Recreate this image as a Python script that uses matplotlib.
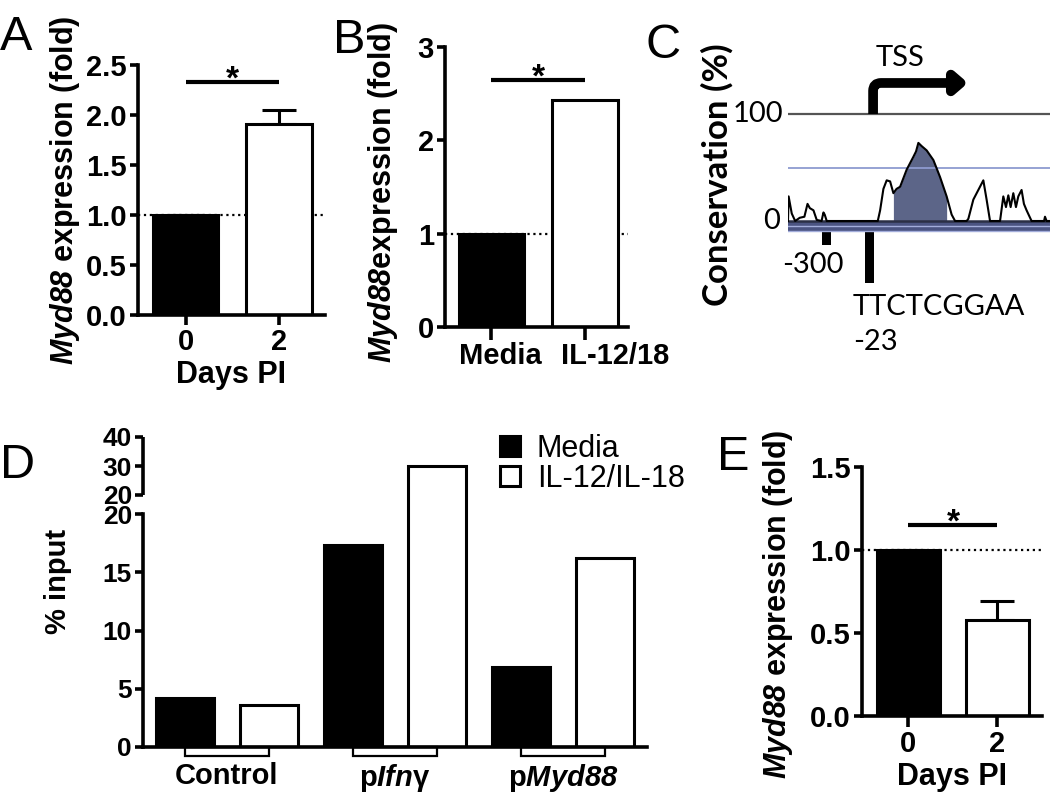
import numpy as np
import matplotlib
matplotlib.use("Agg")
import matplotlib.pyplot as plt
from matplotlib.patches import Rectangle
from matplotlib.ticker import FixedLocator
from matplotlib.transforms import ScaledTranslation

plt.rcParams['font.family'] = ['Liberation Sans', 'DejaVu Sans']
plt.rcParams['font.weight'] = 'bold'
plt.rcParams['axes.labelweight'] = 'bold'
plt.rcParams['mathtext.fontset'] = 'custom'
# math is only used for the italic gene names, so digits there go italic too
plt.rcParams['mathtext.rm'] = 'Liberation Sans:italic:bold'
plt.rcParams['mathtext.it'] = 'Liberation Sans:italic:bold'
plt.rcParams['mathtext.sf'] = 'Liberation Sans'

# ---- data ----
# A: Myd88 fold, days post infection
a_days = ["0", "2"]
a_mean = [1.0, 1.91]
a_err = [0.0, 0.14]
a_sig = 2.33

# B: Myd88 fold, media vs IL-12/18
b_cats = ["Media", "IL-12/18"]
b_vals = [1.0, 2.43]
b_sig = 2.65

# C: conservation trace (bp relative to TSS, %)
cons_pos = [-545, -541, -521, -499, -470, -440, -420, -405, -382, -361, -330, -318, -310, -297,
            30, 45, 66, 87, 109, 130, 150, 173, 215, 258, 275, 290, 311, 343, 386, 429,
            471, 503, 525, 599, 610, 642, 674, 706, 727, 749, 813, 834, 851, 866, 881,
            898, 915, 930, 951, 966, 983, 1015, 1095, 1101, 1111, 1133]
cons_pct = [0, 23, 7, 0, 3, 4, 16, 12, 10, 1, 0, 8, 6, 0,
            0, 10, 30, 38, 37, 26, 30, 32, 48, 60, 65, 73, 70, 66, 57, 41,
            23, 6, 0, 0, 2, 20, 29, 38, 20, 0, 0, 23, 13, 24, 13,
            26, 13, 23, 29, 16, 10, 0, 0, 4, 0, 0]
ecr_start, ecr_end = 130, 475
site_pos = [-300, -23]
site_len = [12, 48]

# D: ChIP % input
d_groups = ["Control", r"p$\it{Ifn}$$\mathsf{\gamma}$", r"p$\it{Myd88}$"]
d_media = [4.2, 17.3, 6.9]
d_il = [3.6, 30.0, 16.2]

# E: Myd88 fold, days post infection
e_days = ["0", "2"]
e_mean = [1.0, 0.58]
e_err = [0.0, 0.11]
e_sig = 1.15

W, H = 1050, 799
SP = 2.6
BLW = 2.2


def px_axes(fig, x0, x1, ytop, ybot):
    return fig.add_axes([x0 / W, 1 - ybot / H, (x1 - x0) / W, (ybot - ytop) / H])


def style(ax):
    ax.spines['top'].set_visible(False)
    ax.spines['right'].set_visible(False)
    for s in ('left', 'bottom'):
        ax.spines[s].set_linewidth(SP)
    ax.tick_params(axis='y', length=6, width=SP, labelsize=21, pad=2)


def fold_panel(ax, labels, vals, err, sig, ymax, yticks, ytl, ylabel, xlim, xtick_len):
    x = np.arange(len(vals))
    ax.axhline(1.0, ls=':', lw=1.6, color='k', zorder=0)
    ax.bar(x, vals, width=0.7, color=['black', 'white'], edgecolor='black',
           linewidth=BLW, zorder=2)
    if err is not None:
        ax.errorbar(x, vals, yerr=[[0] * len(err), err], fmt='none', ecolor='k',
                    elinewidth=BLW, capsize=12, capthick=BLW, zorder=1)
    ax.plot([x[0], x[1]], [sig, sig], color='k', lw=3, solid_capstyle='butt')
    ax.annotate('*', xy=(x.mean(), sig), xytext=(0, -5), textcoords='offset points',
                ha='center', va='baseline', fontsize=24)
    ax.set_ylim(0, ymax)
    ax.set_yticks(yticks, ytl)
    ax.set_xlim(*xlim)
    ax.set_xticks(x, labels)
    ax.tick_params(axis='x', length=xtick_len, width=SP, labelsize=21, pad=2)
    ax.set_ylabel(ylabel, fontsize=22)
    style(ax)


fig = plt.figure(figsize=(W / 100, H / 100), dpi=100)

# ---- A ----
axA = px_axes(fig, 138, 325, 65, 315)
fold_panel(axA, a_days, a_mean, a_err, a_sig, 2.5, [0, 0.5, 1, 1.5, 2, 2.5],
           ['0.0', '0.5', '1.0', '1.5', '2.0', '2.5'],
           r"$\it{Myd88}$ expression (fold)", (-0.508, 1.49), 7)
axA.set_xlabel("Days PI", fontsize=22, labelpad=3)
axA.yaxis.set_label_coords(-0.30, 0.5)

# ---- B ----
axB = px_axes(fig, 445, 628, 47, 327)
fold_panel(axB, b_cats, b_vals, None, b_sig, 3, [0, 1, 2, 3], ['0', '1', '2', '3'],
           r"$\it{Myd88}$expression (fold)", (-0.497, 1.46), 9)
axB.yaxis.set_label_coords(-0.246, 0.48)
for lab, dx in zip(axB.get_xticklabels(), (9, 30)):
    lab.set_transform(lab.get_transform() + ScaledTranslation(dx / 100, 0, fig.dpi_scale_trans))

# ---- C ----
PXV = 100 / 107.0
axC = px_axes(fig, 788, 1050, 60, 360)
axC.set_xlim(-545, 1133)
axC.set_ylim(-(360 - 221) * PXV, (221 - 60) * PXV)
axC.axis('off')
axC.axhline(100, color='#555555', lw=1.6)
axC.axhline(50, color='#8e9bd0', lw=1.3)
axC.axhspan(-10.3, 0, color='#4b5482', lw=0)
axC.axhline(-4.8, color='#a3addb', lw=1.0)
axC.axhline(-9.6, color='#a3addb', lw=1.0)
axC.axhline(0, color='#2b2f45', lw=1.8)
pos = np.array(cons_pos)
pct = np.array(cons_pct)
axC.fill_between(pos, 0, pct, where=(pos >= ecr_start) & (pos <= ecr_end),
                 color='#5c6588', lw=0)
axC.plot(pos, pct, color='k', lw=1.5)
axC.bar(site_pos, site_len, bottom=-10.3 - np.array(site_len), width=60, color='k')
axC.annotate('', xy=(608, 129), xytext=(0, 100),
             arrowprops=dict(arrowstyle='-|>,head_length=0.35,head_width=0.3',
                             connectionstyle='angle,angleA=90,angleB=0,rad=8',
                             lw=7, color='k', shrinkA=0, shrinkB=0,
                             mutation_scale=20, capstyle='butt'))
ctxt = dict(family='Lato', fontweight='normal', fontsize=21)
axC.text(-0.02, 100, '100', transform=axC.get_yaxis_transform(), ha='right',
         va='center', **ctxt)
axC.text(-0.03, 0, '0', transform=axC.get_yaxis_transform(), ha='right',
         va='center', **ctxt)
axC.text(173, 152, 'TSS', ha='center', va='center', **ctxt)
axC.text(-384, -41, '-300', ha='center', va='center', **ctxt)
axC.text(-128, -80, 'TTCTCGGAA', ha='left', va='center', **ctxt)
axC.text(-128, -113, '-23', ha='left', va='center', **ctxt)
fig.text(717 / W, 1 - 175 / H, 'Conservation (%)', rotation=90, ha='center',
         va='center', family='Lato', fontweight='bold', fontsize=25)

# ---- D ----
GAP = 19 / 11.65
K = 2.9 / 11.65


def fwd(y):
    y = np.asarray(y, float)
    return np.where(y <= 20, y, 20 + GAP + (y - 20) * K)


def inv(v):
    v = np.asarray(v, float)
    return np.where(v <= 20, v, np.where(v < 20 + GAP, 20, 20 + (v - 20 - GAP) / K))


axD = px_axes(fig, 143, 647, 437, 747)
axD.set_yscale('function', functions=(fwd, inv))
gx = np.arange(len(d_groups))
bm = axD.bar(gx - 0.25, d_media, width=0.34, color='black', edgecolor='black',
             linewidth=BLW, label='Media')
bi = axD.bar(gx + 0.25, d_il, width=0.34, color='white', edgecolor='black',
             linewidth=BLW, label='IL-12/IL-18')
axD.set_ylim(0, 40)
axD.set_xlim(-0.5, 2.5)
axD.yaxis.set_major_locator(FixedLocator([0, 5, 10, 15, 20, 20.0001, 30, 40]))
axD.set_yticklabels(['0', '5', '10', '15', '20', '20', '30', '40'])
axD.set_xticks(gx, d_groups)
style(axD)
axD.tick_params(axis='y', labelsize=19)
axD.tick_params(axis='x', length=0, pad=11, labelsize=21)
axD.spines['left'].set_bounds(0, 20)
axD.plot([0, 0], [20.0001, 40], transform=axD.get_yaxis_transform(), color='k',
         lw=SP, clip_on=False, solid_capstyle='butt')
for g in gx:
    axD.add_patch(Rectangle((g - 0.25, -0.029), 0.5, 0.029,
                            transform=axD.get_xaxis_transform(), facecolor='white',
                            edgecolor='black', lw=1.6, clip_on=False))
axD.set_ylabel('% input', fontsize=21)
axD.yaxis.set_label_coords(-0.141, 0.535)
fig.legend(handles=[bm, bi], loc='upper left', bbox_to_anchor=(500 / W, 1 - 434 / H),
           frameon=False, prop=dict(family='Liberation Sans', weight='normal', size=22),
           handlelength=0.65, handleheight=0.65, handletextpad=0.55,
           labelspacing=0.0, borderpad=0, borderaxespad=0)

# ---- E ----
axE = px_axes(fig, 862, 1042, 467, 716)
fold_panel(axE, e_days, e_mean, e_err, e_sig, 1.5, [0, 0.5, 1, 1.5],
           ['0.0', '0.5', '1.0', '1.5'], r"$\it{Myd88}$ expression (fold)",
           (-0.522, 1.5), 8)
axE.set_xlabel("Days PI", fontsize=22, labelpad=3)
axE.yaxis.set_label_coords(-0.372, 0.45)

# ---- panel letters ----
for lab, x, y in [('A', 0, 50), ('B', 333, 53), ('C', 645, 58), ('D', 0, 478), ('E', 717, 470)]:
    fig.text(x / W, 1 - y / H, lab, fontsize=35, fontweight='normal', va='baseline')

fig.savefig('out.png', dpi=100)
